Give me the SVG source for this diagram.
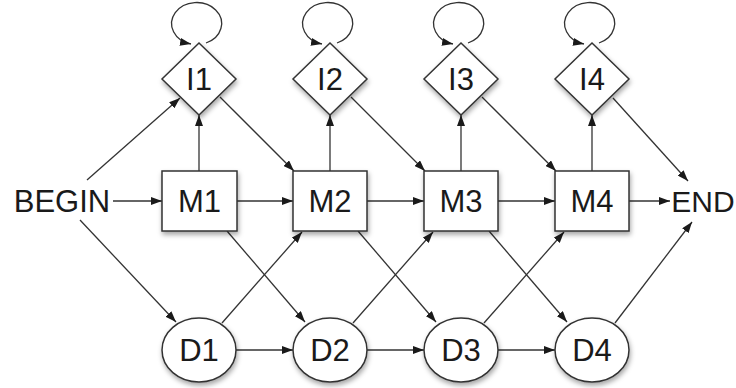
<svg xmlns="http://www.w3.org/2000/svg" width="736" height="388" viewBox="0 0 736 388">
  <style>
    .node { fill: #ffffff; stroke: #333333; stroke-width: 1.5; filter: url(#shadow); }
    .lbl { font-family: "Liberation Sans", Arial, Helvetica, sans-serif; font-size: 31px; fill: #1a1a1a; text-anchor: middle; }
    .edge { fill: none; stroke: #333333; stroke-width: 1.3; marker-end: url(#arrow); }
  </style>
  <defs>
    <marker id="arrow" markerUnits="userSpaceOnUse" markerWidth="11" markerHeight="8" refX="11" refY="4" orient="auto">
      <path d="M0,0 L11,4 L0,8 z" fill="#1a1a1a"/>
    </marker>
    <filter id="shadow" x="-30%" y="-30%" width="160%" height="170%">
      <feDropShadow dx="1" dy="3" stdDeviation="2.5" flood-color="#000000" flood-opacity="0.35"/>
    </filter>
  </defs>

  <!-- connectors -->
  <g id="connectors">
    <!-- self loops on insert states -->
    <path class="edge" d="M206,43 A25 21 0 1 0 191,44"/>
    <path class="edge" d="M337,43 A25 21 0 1 0 322,44"/>
    <path class="edge" d="M468,43 A25 21 0 1 0 453,44"/>
    <path class="edge" d="M599,43 A25 21 0 1 0 584,44"/>

    <!-- begin -->
    <line class="edge" x1="113" y1="201" x2="162" y2="201"/>
    <line class="edge" x1="87" y1="180" x2="180" y2="98"/>
    <line class="edge" x1="80" y1="220" x2="176" y2="322"/>

    <!-- match to match -->
    <line class="edge" x1="237" y1="201" x2="293" y2="201"/>
    <line class="edge" x1="367" y1="201" x2="424" y2="201"/>
    <line class="edge" x1="498" y1="201" x2="555" y2="201"/>
    <line class="edge" x1="629" y1="201" x2="670" y2="201"/>

    <!-- match to insert -->
    <line class="edge" x1="199" y1="171" x2="199" y2="115"/>
    <line class="edge" x1="330" y1="171" x2="330" y2="115"/>
    <line class="edge" x1="461" y1="171" x2="461" y2="115"/>
    <line class="edge" x1="592" y1="171" x2="592" y2="115"/>

    <!-- insert to next match -->
    <line class="edge" x1="220" y1="97" x2="294" y2="171"/>
    <line class="edge" x1="351" y1="97" x2="425" y2="171"/>
    <line class="edge" x1="482" y1="97" x2="556" y2="171"/>
    <line class="edge" x1="613" y1="98" x2="688" y2="181"/>

    <!-- match to next delete -->
    <line class="edge" x1="227" y1="231" x2="305" y2="322"/>
    <line class="edge" x1="358" y1="231" x2="436" y2="322"/>
    <line class="edge" x1="489" y1="231" x2="567" y2="322"/>

    <!-- delete to next match -->
    <line class="edge" x1="222" y1="323" x2="302" y2="232"/>
    <line class="edge" x1="353" y1="323" x2="433" y2="232"/>
    <line class="edge" x1="484" y1="323" x2="564" y2="232"/>
    <line class="edge" x1="615" y1="323" x2="692" y2="222"/>

    <!-- delete to delete -->
    <line class="edge" x1="236" y1="350" x2="293" y2="350"/>
    <line class="edge" x1="367" y1="350" x2="424" y2="350"/>
    <line class="edge" x1="498" y1="350" x2="555" y2="350"/>
  </g>

  <g id="BEGIN"><text class="lbl" x="62" y="212">BEGIN</text></g>
  <g id="END"><text class="lbl" x="703" y="212" style="font-size:30px">END</text></g>

  <g id="I1"><polygon class="node" points="199,43 236,79 199,115 162,79"/><text class="lbl" x="199" y="90">I1</text></g>
  <g id="I2"><polygon class="node" points="330,43 367,79 330,115 293,79"/><text class="lbl" x="330" y="90">I2</text></g>
  <g id="I3"><polygon class="node" points="461,43 498,79 461,115 424,79"/><text class="lbl" x="461" y="90">I3</text></g>
  <g id="I4"><polygon class="node" points="592,43 629,79 592,115 555,79"/><text class="lbl" x="592" y="90">I4</text></g>

  <g id="M1"><rect class="node" x="162" y="171" width="75" height="60"/><text class="lbl" x="199.5" y="212">M1</text></g>
  <g id="M2"><rect class="node" x="293" y="171" width="74" height="60"/><text class="lbl" x="330" y="212">M2</text></g>
  <g id="M3"><rect class="node" x="424" y="171" width="74" height="60"/><text class="lbl" x="461" y="212">M3</text></g>
  <g id="M4"><rect class="node" x="555" y="171" width="74" height="60"/><text class="lbl" x="592" y="212">M4</text></g>

  <g id="D1"><ellipse class="node" cx="199" cy="350" rx="37" ry="32"/><text class="lbl" x="199" y="361">D1</text></g>
  <g id="D2"><ellipse class="node" cx="330" cy="350" rx="37" ry="32"/><text class="lbl" x="330" y="361">D2</text></g>
  <g id="D3"><ellipse class="node" cx="461" cy="350" rx="37" ry="32"/><text class="lbl" x="461" y="361">D3</text></g>
  <g id="D4"><ellipse class="node" cx="592" cy="350" rx="37" ry="32"/><text class="lbl" x="592" y="361">D4</text></g>
</svg>
